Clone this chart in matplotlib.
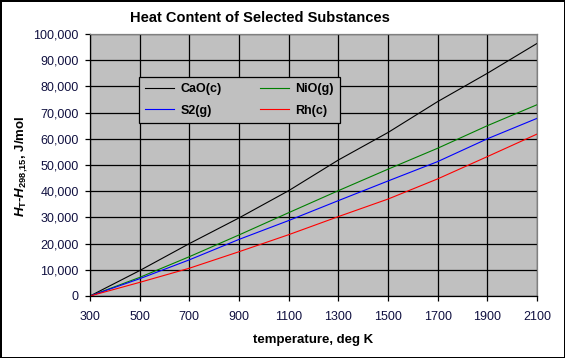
import matplotlib
matplotlib.use("Agg")
import matplotlib.pyplot as plt
from matplotlib.ticker import StrMethodFormatter, MultipleLocator

plt.rcParams['font.family'] = ['Liberation Sans', 'DejaVu Sans']
plt.rcParams['mathtext.fontset'] = 'custom'
plt.rcParams['mathtext.it'] = 'Liberation Sans:italic:bold'
plt.rcParams['mathtext.rm'] = 'Liberation Sans:bold'

# temperatures (K) and heat content H(T)-H(298.15) in J/mol
temps = [300, 500, 700, 900, 1100, 1300, 1500, 1700, 1900, 2100]
cao = [0, 9700, 20000, 29800, 40200, 51900, 62400, 74200, 85000, 96400]
nio = [0, 7100, 15000, 23300, 31800, 40200, 48400, 56400, 65000, 73000]
s2 = [0, 6600, 13800, 21600, 28800, 36400, 43900, 51300, 60000, 67800]
rh = [0, 5200, 10600, 16900, 23400, 30300, 37000, 44700, 53200, 61800]

tick_col = '#101040'

fig = plt.figure(figsize=(5.65, 3.58), dpi=100, facecolor='white',
                 edgecolor='black', linewidth=2)
ax = fig.add_axes([90 / 565, 1 - 296 / 358, 447 / 565, 262 / 358])
ax.set_facecolor('#C0C0C0')

l_cao, = ax.plot(temps, cao, color='black', lw=0.8, label='CaO(c)')
l_nio, = ax.plot(temps, nio, color='#008000', lw=0.8, label='NiO(g)')
l_s2, = ax.plot(temps, s2, color='#0000FF', lw=0.8, label='S2(g)')
l_rh, = ax.plot(temps, rh, color='#FF0000', lw=0.8, label='Rh(c)')

ax.set_xlim(300, 2100)
ax.set_ylim(0, 100000)
ax.set_xticks(temps)
ax.yaxis.set_major_locator(MultipleLocator(10000))
ax.yaxis.set_major_formatter(StrMethodFormatter('{x:,.0f}'))
ax.grid(True, color='black', lw=0.9)
ax.set_axisbelow(True)

for s in ['top', 'right']:
    ax.spines[s].set_color('#808080')
for s in ['left', 'bottom']:
    ax.spines[s].set_color('black')
for s in ax.spines.values():
    s.set_linewidth(0.9)

ax.tick_params(axis='both', direction='out', length=3.5, width=0.9,
               labelsize=9, labelcolor=tick_col)
ax.tick_params(axis='x', pad=7.5)
ax.tick_params(axis='y', pad=4.5)

leg = ax.legend(handles=[l_cao, l_s2, l_nio, l_rh], ncol=2,
                loc='upper left', bbox_to_anchor=(0.110, 0.835),
                borderaxespad=0, fancybox=False, frameon=True,
                facecolor='#C0C0C0', edgecolor='black', framealpha=1,
                prop={'size': 9, 'weight': 'bold'},
                handlelength=2.3, handletextpad=0.5,
                columnspacing=3.1, borderpad=0.5, labelspacing=0.75)
leg.get_frame().set_linewidth(0.9)

fig.text(260 / 565, 1 - 18 / 358, 'Heat Content of Selected Substances',
         ha='center', va='center', fontsize=10.5, fontweight='bold')
fig.text(313 / 565, 1 - 340 / 358, 'temperature, deg K',
         ha='center', va='center', fontsize=9.5, fontweight='bold')
fig.text(22 / 565, 1 - 166 / 358,
         r'$H_{\mathrm{T}}$-$H_{\mathrm{298{,}15}}$, J/mol',
         ha='center', va='center', rotation=90, fontsize=9.5,
         fontweight='bold')

fig.savefig('out.png', dpi=100)
